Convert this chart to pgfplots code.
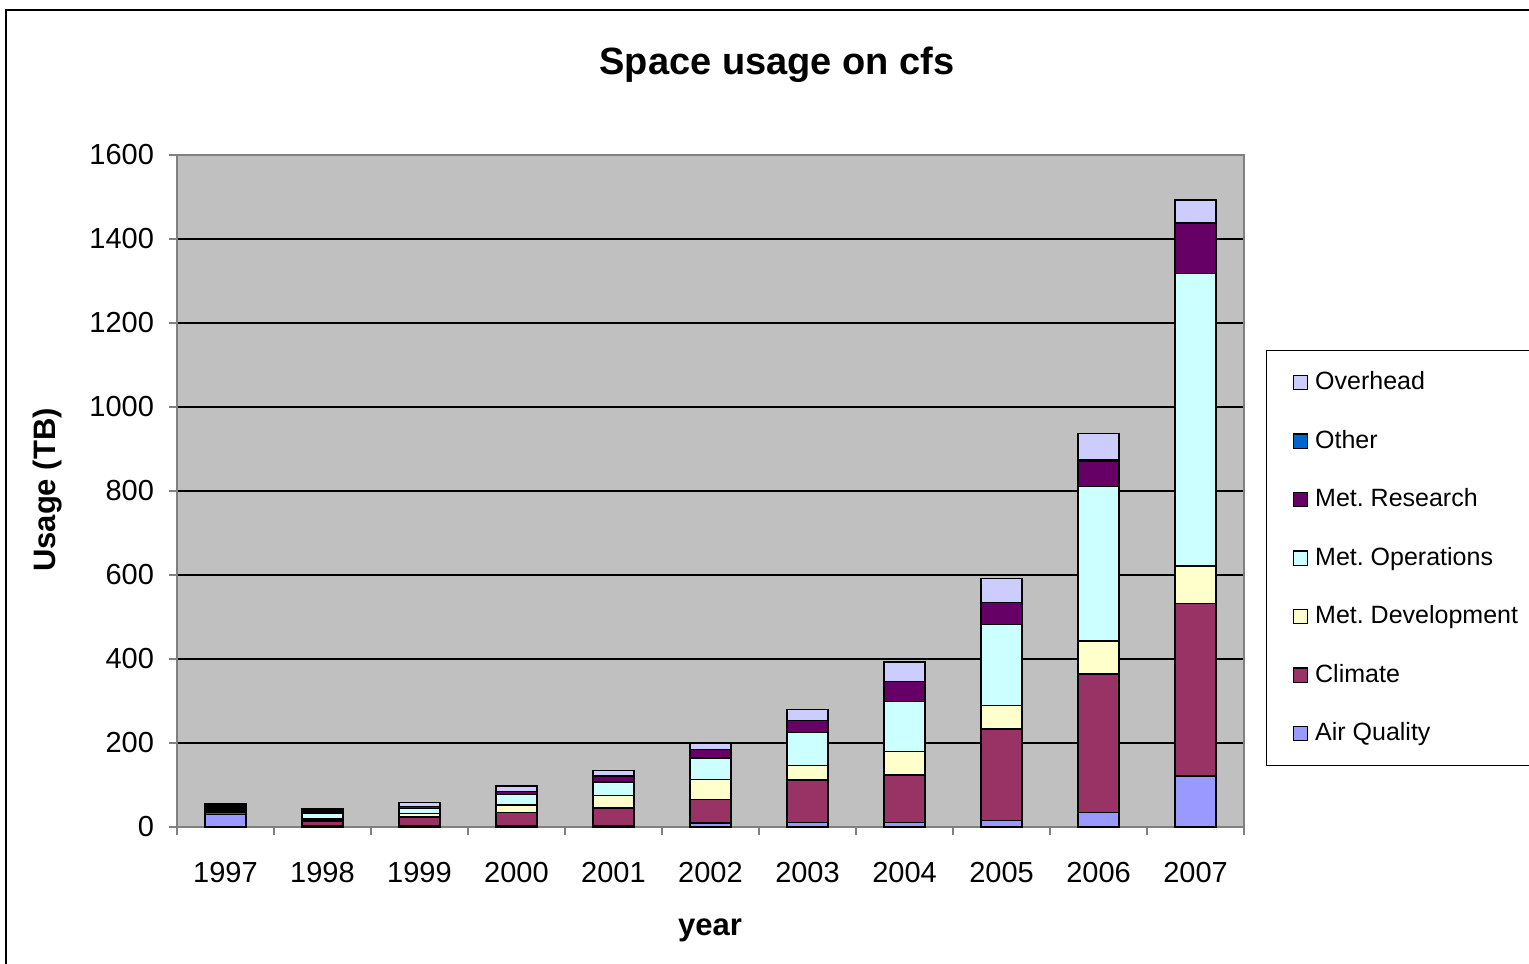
\documentclass[border=0pt]{standalone}
\usepackage{pgfplots}
\usepackage{pgfplotstable}
\usepackage{fontspec}
\setmainfont{Liberation Sans}
\pgfplotsset{compat=1.18}
\frenchspacing
\definecolor{cAQ}{HTML}{9999FF}
\definecolor{cCl}{HTML}{993366}
\definecolor{cDev}{HTML}{FFFFCC}
\definecolor{cOps}{HTML}{CCFFFF}
\definecolor{cRes}{HTML}{660066}
\definecolor{cOth}{HTML}{0066CC}
\definecolor{cOvh}{HTML}{CCCCFF}
\definecolor{plotbg}{HTML}{C0C0C0}
\definecolor{axgray}{HTML}{808080}
\pgfplotstableread{
x AQ Cl Dev Ops Res Blk Oth Ovh
0 30 6 0 0 0 19 0 0
1 2 12 5 13 0 11 0 0
2 3 21 8 12 5 0 0 9
3 2 32 18 25 8 0 0 13
4 3 42 30 32 15 0 0 13
5 9 56 48 51 20 0 0 16
6 11 101 35 78 28 0 0 27
7 11 113 56 119 48 0 0 46
8 15 218 56 193 52 0 0 58
9 34 330 79 368 60 0 3 63
10 121 411 90 696 120 0 0 55
}\datatable
\begin{document}
\begin{tikzpicture}
\useasboundingbox (-88.5pt,-68pt) rectangle (676pt,413.5pt);
\begin{scope}
\clip (-88.5pt,-68pt) rectangle (676pt,413.5pt);
\draw[black, line width=0.8pt] (-85.5pt,-80pt) rectangle (700pt,408.5pt);
\end{scope}
\begin{axis}[
  scale only axis,
  width=533.5pt, height=336pt,
  ybar stacked,
  bar width=20.5pt,
  xmin=-0.5, xmax=10.5,
  ymin=0, ymax=1600,
  xtick={0,...,10},
  xticklabels={1997,1998,1999,2000,2001,2002,2003,2004,2005,2006,2007},
  minor xtick={-0.5,0.5,...,10.5},
  major x tick style={draw=none},
  xtick pos=bottom, ytick pos=left,
  ytick={0,200,...,1600},
  tick align=outside,
  major tick length=4pt,
  minor tick length=4pt,
  tick style={axgray, line width=0.6pt},
  ymajorgrids=true,
  major grid style={black, line width=0.6pt},
  axis line style={axgray, line width=0.8pt},
  axis background/.style={fill=plotbg},
  xticklabel style={font=\fontsize{14.5}{17}\selectfont, yshift=-10pt},
  yticklabel style={font=\fontsize{14.5}{17}\selectfont, xshift=-4pt},
  /pgf/number format/assume math mode=true,
  scaled y ticks=false,
  yticklabel={\pgfmathprintnumber[fixed,1000 sep={}]{\tick}},
  title={Space usage on cfs},
  title style={font=\fontsize{19}{22}\selectfont\bfseries, at={(axis description cs:0.5623,1.116)}, anchor=center},
  xlabel={year},
  xlabel style={font=\fontsize{15.5}{18}\selectfont\bfseries, at={(axis description cs:0.4995,-0.1533)}, anchor=center},
  ylabel={Usage (TB)},
  ylabel style={font=\fontsize{15.5}{18}\selectfont\bfseries, at={(axis description cs:-0.1209,0.5015)}, anchor=center, rotate=0},
  legend style={at={(axis description cs:1.0206,0.7098)}, anchor=north west,
    draw=black, line width=0.6pt, fill=white,
    font=\fontsize{12.5}{15}\selectfont,
    row sep=13.25pt, inner xsep=13pt, inner ysep=8pt,
    nodes={text height=9.5pt, text depth=2.5pt, inner xsep=3.5pt}},
  legend cell align=left,
  reverse legend,
  legend image code/.code={\draw[#1, draw=black, line width=0.6pt] (0pt,-3.6pt) rectangle (7.2pt,3.6pt);},
  every axis plot/.append style={draw=black, line width=0.75pt},
]
\addplot[fill=cAQ] table[x=x,y=AQ]{\datatable};
\addlegendentry{Air Quality}
\addplot[fill=cCl] table[x=x,y=Cl]{\datatable};
\addlegendentry{Climate}
\addplot[fill=cDev] table[x=x,y=Dev]{\datatable};
\addlegendentry{Met. Development}
\addplot[fill=cOps] table[x=x,y=Ops]{\datatable};
\addlegendentry{Met. Operations}
\addplot[fill=cRes] table[x=x,y=Res]{\datatable};
\addlegendentry{Met. Research}
\addplot[fill=black, forget plot] table[x=x,y=Blk]{\datatable};
\addplot[fill=cOth] table[x=x,y=Oth]{\datatable};
\addlegendentry{Other}
\addplot[fill=cOvh] table[x=x,y=Ovh]{\datatable};
\addlegendentry{Overhead}
\end{axis}
\end{tikzpicture}
\end{document}
